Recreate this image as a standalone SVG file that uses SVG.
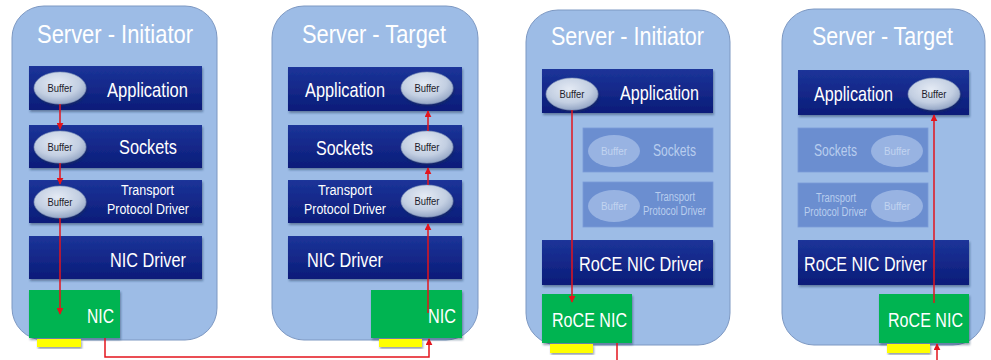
<svg xmlns="http://www.w3.org/2000/svg" width="991" height="360" viewBox="0 0 991 360">
  <defs>
    <linearGradient id="layerGrad" x1="0" y1="0" x2="0" y2="1">
      <stop offset="0" stop-color="#1c3499"/>
      <stop offset="1" stop-color="#0b1c79"/>
    </linearGradient>
    <radialGradient id="bufGrad" cx="0.45" cy="0.35" r="0.7">
      <stop offset="0" stop-color="#e4eaf4"/>
      <stop offset="0.6" stop-color="#c3cfe2"/>
      <stop offset="1" stop-color="#8c9fc0"/>
    </radialGradient>
    <filter id="shadow" x="-10%" y="-10%" width="120%" height="130%">
      <feDropShadow dx="1" dy="2" stdDeviation="1.2" flood-color="#1a2a50" flood-opacity="0.45"/>
    </filter>
    <marker id="arrow" viewBox="0 0 10 10" refX="9" refY="5" markerWidth="7" markerHeight="7" orient="auto-start-reverse" markerUnits="userSpaceOnUse">
      <path d="M0,0 L10,5 L0,10 Z" fill="#e3151d"/>
    </marker>
  </defs>
  <style>
    .panel { fill: #9dbce6; stroke: #7d98c2; stroke-width: 1; }
    .layer { fill: url(#layerGrad); filter: url(#shadow); }
    .faded { fill: #6b8ed0; stroke: #7a9bd8; stroke-width: 0.8; }
    .nic { fill: #00b451; filter: url(#shadow); }
    .port { fill: #ffff00; filter: url(#shadow); }
    .buf { fill: url(#bufGrad); stroke: #8a9cc0; stroke-width: 0.6; filter: url(#shadow); }
    .fbuf { fill: #98b3e2; }
    .title { font-family: "Liberation Sans", Arial, sans-serif; font-size: 26px; fill: #ffffff; }
    .lbl { font-family: "Liberation Sans", Arial, sans-serif; font-size: 21px; fill: #ffffff; }
    .small { font-family: "Liberation Sans", Arial, sans-serif; font-size: 14px; fill: #ffffff; }
    .flbl { font-family: "Liberation Sans", Arial, sans-serif; font-size: 16px; fill: #b8cdee; }
    .fsmall { font-family: "Liberation Sans", Arial, sans-serif; font-size: 12px; fill: #b8cdee; }
    .buftxt { font-family: "Liberation Sans", Arial, sans-serif; font-size: 11px; fill: #1a1a2a; text-anchor: middle; }
    .fbuftxt { font-family: "Liberation Sans", Arial, sans-serif; font-size: 11px; fill: #c2d4f0; text-anchor: middle; }
    .flow { fill: none; stroke: #e3151d; stroke-width: 1.5; }
  </style>

  <!-- TCP/IP initiator -->
  <g id="tcp-initiator">
    <rect class="panel" x="12" y="6" width="205" height="334" rx="32"/>
    <text class="title" x="37" y="43" textLength="156" lengthAdjust="spacingAndGlyphs">Server - Initiator</text>
    <g id="tcp-init-app">
      <rect class="layer" x="29" y="66" width="173" height="44"/>
      <ellipse class="buf" cx="60" cy="88" rx="26" ry="16"/>
      <text class="buftxt" x="60" y="92" textLength="25" lengthAdjust="spacingAndGlyphs">Buffer</text>
      <text class="lbl" x="107" y="97" textLength="81" lengthAdjust="spacingAndGlyphs">Application</text>
    </g>
    <g id="tcp-init-sockets">
      <rect class="layer" x="29" y="125" width="173" height="43"/>
      <ellipse class="buf" cx="60" cy="147" rx="26" ry="16"/>
      <text class="buftxt" x="60" y="151" textLength="25" lengthAdjust="spacingAndGlyphs">Buffer</text>
      <text class="lbl" x="119" y="154" textLength="58" lengthAdjust="spacingAndGlyphs">Sockets</text>
    </g>
    <g id="tcp-init-transport">
      <rect class="layer" x="29" y="180" width="173" height="43"/>
      <ellipse class="buf" cx="60" cy="202" rx="26" ry="16"/>
      <text class="buftxt" x="60" y="206" textLength="25" lengthAdjust="spacingAndGlyphs">Buffer</text>
      <text class="small" x="121" y="195" textLength="53" lengthAdjust="spacingAndGlyphs">Transport</text>
      <text class="small" x="107" y="214" textLength="82" lengthAdjust="spacingAndGlyphs">Protocol Driver</text>
    </g>
    <g id="tcp-init-nicdriver">
      <rect class="layer" x="29" y="236" width="173" height="43"/>
      <text class="lbl" x="110" y="267" textLength="76" lengthAdjust="spacingAndGlyphs">NIC Driver</text>
    </g>
    <g id="tcp-init-nic">
      <rect class="nic" x="29" y="290" width="91" height="48"/>
      <rect class="port" x="37" y="339" width="44" height="8"/>
      <text class="lbl" x="87" y="323" textLength="27" lengthAdjust="spacingAndGlyphs">NIC</text>
    </g>
  </g>

  <!-- TCP/IP target -->
  <g id="tcp-target">
    <rect class="panel" x="272" y="6" width="206" height="334" rx="32"/>
    <text class="title" x="302" y="43" textLength="144" lengthAdjust="spacingAndGlyphs">Server - Target</text>
    <g id="tcp-tgt-app">
      <rect class="layer" x="288" y="67" width="174" height="44"/>
      <ellipse class="buf" cx="427" cy="88" rx="26" ry="16"/>
      <text class="buftxt" x="427" y="92" textLength="25" lengthAdjust="spacingAndGlyphs">Buffer</text>
      <text class="lbl" x="305" y="97" textLength="80" lengthAdjust="spacingAndGlyphs">Application</text>
    </g>
    <g id="tcp-tgt-sockets">
      <rect class="layer" x="288" y="125" width="174" height="43"/>
      <ellipse class="buf" cx="427" cy="147" rx="26" ry="16"/>
      <text class="buftxt" x="427" y="151" textLength="25" lengthAdjust="spacingAndGlyphs">Buffer</text>
      <text class="lbl" x="316" y="155" textLength="57" lengthAdjust="spacingAndGlyphs">Sockets</text>
    </g>
    <g id="tcp-tgt-transport">
      <rect class="layer" x="288" y="180" width="174" height="43"/>
      <ellipse class="buf" cx="427" cy="201" rx="26" ry="16"/>
      <text class="buftxt" x="427" y="205" textLength="25" lengthAdjust="spacingAndGlyphs">Buffer</text>
      <text class="small" x="318" y="195" textLength="54" lengthAdjust="spacingAndGlyphs">Transport</text>
      <text class="small" x="304" y="214" textLength="82" lengthAdjust="spacingAndGlyphs">Protocol Driver</text>
    </g>
    <g id="tcp-tgt-nicdriver">
      <rect class="layer" x="288" y="236" width="174" height="43"/>
      <text class="lbl" x="307" y="267" textLength="76" lengthAdjust="spacingAndGlyphs">NIC Driver</text>
    </g>
    <g id="tcp-tgt-nic">
      <rect class="nic" x="371" y="290" width="91" height="48"/>
      <rect class="port" x="379" y="339" width="43" height="8"/>
      <text class="lbl" x="428" y="323" textLength="28" lengthAdjust="spacingAndGlyphs">NIC</text>
    </g>
  </g>

  <!-- RoCE initiator -->
  <g id="roce-initiator">
    <rect class="panel" x="526" y="10" width="204" height="335" rx="32"/>
    <text class="title" x="551" y="45" textLength="153" lengthAdjust="spacingAndGlyphs">Server - Initiator</text>
    <g id="roce-init-app">
      <rect class="layer" x="542" y="69" width="171" height="44"/>
      <ellipse class="buf" cx="572" cy="94" rx="26" ry="16"/>
      <text class="buftxt" x="572" y="98" textLength="25" lengthAdjust="spacingAndGlyphs">Buffer</text>
      <text class="lbl" x="620" y="100" textLength="79" lengthAdjust="spacingAndGlyphs">Application</text>
    </g>
    <g id="roce-init-sockets">
      <rect class="faded" x="583" y="128" width="130" height="44"/>
      <ellipse class="fbuf" cx="614" cy="151" rx="26" ry="16"/>
      <text class="fbuftxt" x="614" y="155" textLength="26" lengthAdjust="spacingAndGlyphs">Buffer</text>
      <text class="flbl" x="653" y="156" textLength="43" lengthAdjust="spacingAndGlyphs">Sockets</text>
    </g>
    <g id="roce-init-transport">
      <rect class="faded" x="583" y="182" width="130" height="45"/>
      <ellipse class="fbuf" cx="614" cy="206" rx="26" ry="16"/>
      <text class="fbuftxt" x="614" y="210" textLength="26" lengthAdjust="spacingAndGlyphs">Buffer</text>
      <text class="fsmall" x="655" y="201" textLength="40" lengthAdjust="spacingAndGlyphs">Transport</text>
      <text class="fsmall" x="643" y="215" textLength="63" lengthAdjust="spacingAndGlyphs">Protocol Driver</text>
    </g>
    <g id="roce-init-driver">
      <rect class="layer" x="542" y="240" width="171" height="45"/>
      <text class="lbl" x="579" y="271" textLength="124" lengthAdjust="spacingAndGlyphs">RoCE NIC Driver</text>
    </g>
    <g id="roce-init-nic">
      <rect class="nic" x="542" y="294" width="90" height="49"/>
      <rect class="port" x="550" y="344" width="43" height="9"/>
      <text class="lbl" x="552" y="327" textLength="75" lengthAdjust="spacingAndGlyphs">RoCE NIC</text>
    </g>
  </g>

  <!-- RoCE target -->
  <g id="roce-target">
    <rect class="panel" x="782" y="9" width="203" height="336" rx="32"/>
    <text class="title" x="812" y="45" textLength="141" lengthAdjust="spacingAndGlyphs">Server - Target</text>
    <g id="roce-tgt-app">
      <rect class="layer" x="798" y="70" width="171" height="45"/>
      <ellipse class="buf" cx="934" cy="94" rx="26" ry="16"/>
      <text class="buftxt" x="934" y="98" textLength="25" lengthAdjust="spacingAndGlyphs">Buffer</text>
      <text class="lbl" x="814" y="101" textLength="79" lengthAdjust="spacingAndGlyphs">Application</text>
    </g>
    <g id="roce-tgt-sockets">
      <rect class="faded" x="798" y="128" width="130" height="44"/>
      <ellipse class="fbuf" cx="897" cy="151" rx="26" ry="16"/>
      <text class="fbuftxt" x="897" y="155" textLength="26" lengthAdjust="spacingAndGlyphs">Buffer</text>
      <text class="flbl" x="814" y="156" textLength="43" lengthAdjust="spacingAndGlyphs">Sockets</text>
    </g>
    <g id="roce-tgt-transport">
      <rect class="faded" x="798" y="183" width="130" height="44"/>
      <ellipse class="fbuf" cx="897" cy="206" rx="26" ry="16"/>
      <text class="fbuftxt" x="897" y="210" textLength="26" lengthAdjust="spacingAndGlyphs">Buffer</text>
      <text class="fsmall" x="816" y="202" textLength="40" lengthAdjust="spacingAndGlyphs">Transport</text>
      <text class="fsmall" x="804" y="216" textLength="63" lengthAdjust="spacingAndGlyphs">Protocol Driver</text>
    </g>
    <g id="roce-tgt-driver">
      <rect class="layer" x="798" y="240" width="171" height="45"/>
      <text class="lbl" x="804" y="271" textLength="123" lengthAdjust="spacingAndGlyphs">RoCE NIC Driver</text>
    </g>
    <g id="roce-tgt-nic">
      <rect class="nic" x="879" y="294" width="90" height="49"/>
      <rect class="port" x="887" y="344" width="43" height="9"/>
      <text class="lbl" x="888" y="327" textLength="75" lengthAdjust="spacingAndGlyphs">RoCE NIC</text>
    </g>
  </g>

  <!-- data paths -->
  <g id="connectors">
    <path class="flow" d="M60,104 V129" marker-end="url(#arrow)"/>
    <path class="flow" d="M60,163 V184" marker-end="url(#arrow)"/>
    <path class="flow" d="M60,218 V314" marker-end="url(#arrow)"/>
    <path class="flow" d="M105,338 V357 H429 V339" marker-end="url(#arrow)"/>
    <path class="flow" d="M428,313 V224" marker-end="url(#arrow)"/>
    <path class="flow" d="M428,185 V168" marker-end="url(#arrow)"/>
    <path class="flow" d="M428,131 V111" marker-end="url(#arrow)"/>
    <path class="flow" d="M572,110 V302" marker-end="url(#arrow)"/>
    <path class="flow" d="M617,343 V360"/>
    <path class="flow" d="M937,360 V344" marker-end="url(#arrow)"/>
    <path class="flow" d="M934,303 V115" marker-end="url(#arrow)"/>
  </g>
</svg>
